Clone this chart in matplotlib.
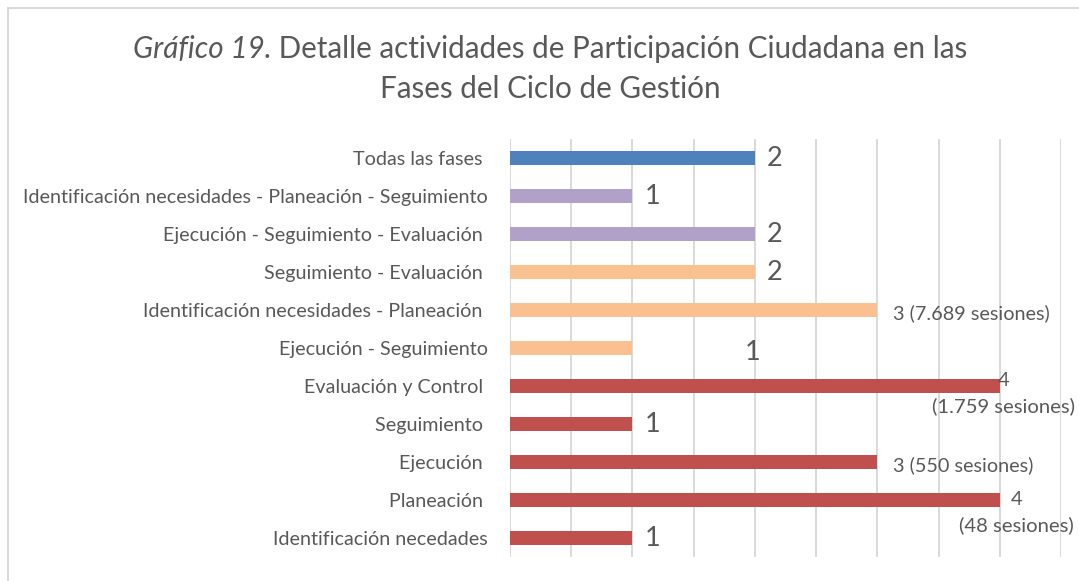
import matplotlib
matplotlib.use("Agg")
import matplotlib.pyplot as plt
from matplotlib.lines import Line2D

plt.rcParams['font.family'] = ['Lato', 'DejaVu Sans']

categorias = [
    "Todas las fases ",
    "Identificación necesidades - Planeación - Seguimiento",
    "Ejecución - Seguimiento - Evaluación ",
    "Seguimiento - Evaluación ",
    "Identificación necesidades - Planeación ",
    "Ejecución - Seguimiento",
    "Evaluación y Control ",
    "Seguimiento ",
    "Ejecución ",
    "Planeación ",
    "Identificación necedades",
]
valores = [2, 1, 2, 2, 3, 1, 4, 1, 3, 4, 1]
sesiones = [None, None, None, None, 7689, None, 1759, None, 550, 48, None]
grupos = ["todas", "tres", "tres", "dos", "dos", "dos", "una", "una", "una", "una", "una"]
colores_grupo = {"todas": "#4F81BD", "tres": "#B1A0C7", "dos": "#FAC090", "una": "#C0504D"}

TXT = "#595959"
W, H = 1079, 581
fig = plt.figure(figsize=(W / 100, H / 100), dpi=100)
ax = fig.add_axes([510 / W, 1 - 557 / H, (1061 - 510) / W, (557 - 139) / H])

ypos = list(range(len(categorias)))
ax.barh(ypos, valores, height=0.38, color=[colores_grupo[g] for g in grupos], zorder=2)
ax.set_ylim(len(categorias) - 0.5, -0.5)
ax.set_xlim(0, 4.5)
ax.set_xticks([i * 0.5 for i in range(10)])
ax.set_xticklabels([])
ax.tick_params(axis='x', length=0)
ax.grid(axis='x', color='#D9D9D9', linewidth=1.4, zorder=0)
ax.set_axisbelow(True)
for s in ax.spines.values():
    s.set_visible(False)
ax.set_yticks(ypos)
ax.set_yticklabels(categorias, fontsize=14.2, color=TXT)
ax.tick_params(axis='y', length=0, pad=16)

def fmt_miles(n):
    return f"{n:,}".replace(",", ".")

for i, (v, s) in enumerate(zip(valores, sesiones)):
    if s is None:
        if categorias[i].strip() == "Ejecución - Seguimiento":
            ax.annotate(f"{v}", (2.0, i), xytext=(-2, -4), textcoords='offset pixels',
                        ha='center', va='center', fontsize=19.5, color=TXT)
        else:
            ax.annotate(f"{v}", (v, i), xytext=(12, -1), textcoords='offset pixels',
                        ha='left', va='center', fontsize=19.5, color=TXT)
    elif v == 3:
        ax.annotate(f"{v} ({fmt_miles(s)} sesiones)", (v, i), xytext=(16, -3),
                    textcoords='offset pixels', ha='left', va='center', fontsize=14.3, color=TXT)
    else:
        dx = 4 if s > 100 else 17
        dy = -8 if s > 100 else -13
        ax.annotate(f"{v}\n({fmt_miles(s)} sesiones)", (v, i), xytext=(dx, dy),
                    textcoords='offset pixels', ha='center', va='center',
                    multialignment='center', fontsize=14.6, color=TXT, linespacing=1.55)

# title: italic part + regular part, centered
fig.canvas.draw()
r = fig.canvas.get_renderer()
y1 = 1 - 49 / H
t1 = fig.text(0, y1, "Gráfico 19.", style='italic', fontsize=21.3, color=TXT, va='center')
t2 = fig.text(0, y1, " Detalle actividades de Participación Ciudadana en las", fontsize=21.3,
              color=TXT, va='center')
w1 = t1.get_window_extent(r).width
w2 = t2.get_window_extent(r).width
x0 = 550 - (w1 + w2) / 2
t1.set_x(x0 / W)
t2.set_x((x0 + w1) / W)
fig.text(550 / W, 1 - 89 / H, "Fases del Ciclo de Gestión", fontsize=21.3, color=TXT,
         ha='center', va='center')

# chart border
fig.add_artist(Line2D([7.5 / W, 1], [1 - 7.5 / H, 1 - 7.5 / H], color='#D9D9D9', lw=1.5,
                      transform=fig.transFigure))
fig.add_artist(Line2D([7.5 / W, 7.5 / W], [0, 1 - 7.5 / H], color='#D9D9D9', lw=1.5,
                      transform=fig.transFigure))

fig.savefig("out.png", dpi=100)
